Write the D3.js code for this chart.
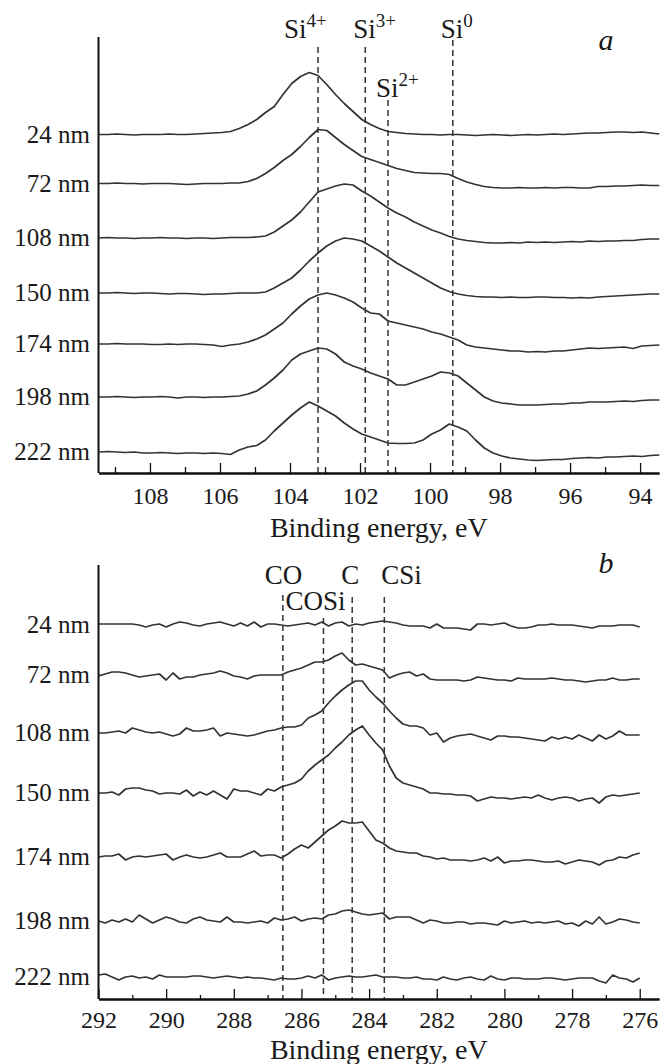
<!DOCTYPE html>
<html>
<head>
<meta charset="utf-8">
<script src="https://cdn.jsdelivr.net/npm/d3@7"></script>
<style>
body { margin: 0; background: #fff; }
text { font-family: "Liberation Serif", "Times New Roman", serif; fill: #1a1a1a; }
.curve { fill: none; stroke: #333; stroke-width: 1.7; stroke-linejoin: round; }
.guide { stroke: #333; stroke-width: 1.5; stroke-dasharray: 6,4; }
.axis path, .axis line { stroke: #111; }
.axis path { stroke-width: 2; }
.axis line { stroke-width: 1.3; }
.axis text { font-size: 24px; }
.depth { font-size: 25px; }
.peak { font-size: 27px; }
.title { font-size: 28px; }
.letter { font-size: 30px; font-style: italic; }
</style>
</head>
<body>
<svg id="chart" width="660" height="1064"></svg>
<script>
// depth of the sputtered layer, same for both panels
var depths = ["24 nm", "72 nm", "108 nm", "150 nm", "174 nm", "198 nm", "222 nm"];

// vertical shift of every spectrum (a.u.)
var siOffsets = [338.5, 289.5, 235, 180, 129, 76, 21];
var cOffsets = [374, 324, 266, 206, 142, 78, 22];

// energy grids (eV), Si 2p step 0.25, C 1s step 0.2
var siEnergies = d3.range(65).map(function (i) { return 109.45 - 0.25 * i; });
var cEnergies = d3.range(81).map(function (i) { return 292 - 0.2 * i; });

var siTicks = [108, 106, 104, 102, 100, 98, 96, 94];
var siMinor = [109, 107, 105, 103, 101, 99, 97, 95];
var cTicks = [292, 290, 288, 286, 284, 282, 280, 278, 276];
var cMinor = [291, 289, 287, 285, 283, 281, 279, 277];

var siPeaks = [
  { name: "Si", sup: "4+", energy: 103.2 },
  { name: "Si", sup: "3+", energy: 101.85 },
  { name: "Si", sup: "2+", energy: 101.2 },
  { name: "Si", sup: "0", energy: 99.35 }
];
var cPeaks = [
  { name: "CO", sup: "", energy: 286.55 },
  { name: "COSi", sup: "", energy: 285.35 },
  { name: "C", sup: "", energy: 284.5 },
  { name: "CSi", sup: "", energy: 283.55 }
];

// Si 2p intensities (a.u.)
var si24 = [0,0,0.5,0,-0.5,0,0,0,0.5,0,0,0.5,1,1.5,2,3,6,10,15,22,28,40,51,58,62,59,50,40,31,23,15,10,6,3,2,1,0.5,0,0,-0.5,0,0,-0.5,-1,-0.5,0,-0.5,-1,-0.5,0,-0.5,0,0.5,0,0.5,1,1.5,1.5,2,2.5,2.5,2,2.5,1.5,0.5];
var si72 = [0,0,0.5,0,0,-0.5,0,0,0,-0.5,-1,-0.5,0,0,0,0.5,0.5,2,5,10,16,23,29,37,46,54,53,46,39,33,27,24,21,18,15,13,11,10.5,10,10,9,5,1.5,-1,-3,-4,-4.5,-4.5,-4,-4.5,-4.5,-4,-4.5,-4,-4,-4.5,-4.5,-3,-3,-2.5,-2.5,-2,-1.5,-2,-2];
var si108 = [0,0.5,0,0,-0.5,0,0,0.5,0,0,-0.5,0,0,-0.5,0,0.5,0.5,0.5,1,2,6,12,18,26,36,46,49,52,54,53,47,42,36,30,25,21,16,12,8,5,1.5,-1,-2.5,-3.5,-4.5,-5,-5,-4.5,-5,-4,-4.5,-4,-4.5,-4,-3.5,-4,-3,-3.5,-3,-3,-2.5,-2.5,-1.5,-1,-1];
var si150 = [0,0,0.5,0,-0.5,0,0,-0.5,-1,-0.5,-0.5,-1,-1.5,-1,-1,-0.5,0,0,0,1,5,10,15,23,32,40,47,52,55,54,52,47,42,36,30,25,20,15,10,5,1.5,-1,-2.5,-3.5,-4,-4,-4.5,-4,-4.5,-4.5,-4,-4,-4.5,-4.5,-5,-4.5,-5,-4,-3.5,-3,-2.5,-2,-1.5,-1,-1];
var si174 = [0,0,0.5,0,0,0,-0.5,-0.5,0,-0.5,0,0,-0.5,-1,-2.5,-1,0,2,5,9,15,21,30,38,45,49,51,49,46,42,36,31,30,23,21,19,17,15,12,10,7,4,-1,-3,-4,-5,-6,-7,-7,-8,-7.5,-8,-7,-7,-6,-5,-4,-4.5,-4,-3.5,-3,-4.5,-2,-1.5,-1];
var si198 = [0,0,0.5,0,-0.5,0,0,0.5,0,-1,0,0,-0.5,0,0,0.5,1,3,6,12,19,27,37,43,46,49,48,43,35,31,28,24,21,18,12,12,15,18,21,25,24,21,14,7,0,-4,-6,-7,-8,-8,-8,-7.5,-7,-7,-6,-6,-5,-5,-5,-4.5,-4,-4.5,-3.5,-3,-3];
var si222 = [0,0.5,0,-0.5,0,-1,-1,-0.5,-1,-1.5,-1,-1,-1.5,-1,-1.5,-2.5,2,5,6.5,12,21,29,37,44,50,46,41,36,29,23,18,15,12,9,8.5,8.5,9,12,18,22,28,25,21,12,4,-1,-4,-6,-7,-8,-8.5,-8,-7.5,-7.5,-6.5,-6,-5.5,-6,-5,-5,-4.5,-4,-4.5,-3.5,-3];

// C 1s intensities (a.u.)
var c24 = [1,1,1,1,1,1,0,-2,0,1,-2,1,3,2,0,-1,1,2,3,1,-1,2,-1,3,-2,1,1,0,-1,0,1,2,0,3,-1,2,3,-1,1,0,2,3,4,3,2,0,-1,-1,-1,-3,1,-3,-3,-3,-4,-5,1,1,0,1,2,-1,-3,-3,-2,0,0,1,0,0,0,-1,-2,-3,-1,-1,-1,0,0,0,-2];
var c72 = [-1,1,3,3,2,0,-2,-1,0,1,-5,2,-4,-2,-2,0,1,2,4,2,-1,-2,-4,-1,0,0,0,0,3,5,7,10,13,13,15,19,22,15,10,11,9,7,5,-3,0,2,3,-1,1,-4,-5,-5,-5,-5,-6,-5,-2,-3,-4,-5,-5,-6,-3,-4,-4,-4,-4,-3,-4,-5,-5,-6,-7,-6,-5,-5,-3,-5,-5,-4,-4];
var c108 = [0,0,1,2,0,5,3,1,0,1,-1,-3,-1,5,2,2,3,5,-3,0,-1,-2,-3,-2,0,2,3,5,6,6,8,15,18,22,30,37,43,48,52,52,43,36,30,22,15,9,7,7,5,-2,0,-9,-5,-3,-2,-1,-3,-5,-7,-3,-3,-4,-4,-5,-6,-7,-8,-4,-6,-4,-6,-2,-5,-8,-2,-6,-3,2,-2,-2,-2];
var c150 = [0,0,1,-2,4,5,5,3,2,-1,0,0,-1,3,-3,1,-2,2,-2,-6,4,2,2,0,-2,4,2,6,8,10,14,22,28,33,38,45,51,58,63,67,58,50,43,27,15,10,8,6,4,0,0,-1,-1,-2,-2,-3,-8,-6,-4,-5,-5,-6,-5,-4,-5,-2,-5,-7,-5,-4,-5,-8,-6,-5,-10,-4,-2,-3,-2,-1,0];
var c174 = [0,1,1,3,-3,0,1,0,1,2,3,-3,0,2,0,-1,0,2,4,0,0,0,3,6,1,2,2,-1,3,8,12,9,15,21,27,31,36,34,34,35,26,17,14,9,6,5,4,4,1,0,-2,-1,-3,-3,-3,-4,-3,-1,-4,0,-6,-4,-4,-3,-3,-4,-5,-5,-4,-7,-5,-3,-4,-5,-8,-4,-3,0,-1,2,4];
var c198 = [0,-2,1,-1,2,-1,6,2,-2,1,4,2,-1,-2,2,4,1,0,-1,4,-1,-1,-2,-1,0,-2,3,1,2,4,0,2,3,2,6,7,10,11,9,7,6,7,8,2,4,4,4,1,-2,1,0,-2,-2,-1,-1,-3,-2,-2,-3,-4,0,-2,-1,0,-2,-1,-2,-1,0,-3,-2,-5,0,-3,4,-3,-1,2,1,-1,-2];
var c222 = [2,3,0,-3,0,1,-1,0,-2,2,0,0,0,0,1,1,0,-1,0,1,0,-1,0,-1,-1,-2,-3,-1,-2,-2,-1,1,-1,2,-3,-1,0,1,0,0,1,2,0,0,0,-1,-1,0,-2,-2,-3,0,-2,-3,-1,0,-2,-3,1,-2,-3,-1,-1,-2,-2,-2,-1,-1,-2,-3,-2,-1,-1,-1,-4,-6,2,-1,-2,-5,-1];

var svg = d3.select("#chart");
svg.append("rect").attr("width", 660).attr("height", 1064).attr("fill", "#fff");

var xSi = d3.scaleLinear().domain([109.47, 93.46]).range([98.5, 659]),
    ySi = d3.scaleLinear().domain([0, 436]).range([473, 37]),
    xC = d3.scaleLinear().domain([292, 275.43]).range([98.5, 659]),
    yC = d3.scaleLinear().domain([0, 434]).range([999, 565]);

// where each guide line starts and where its label sits (px from the line)
var siGuide = [
  { top: 47, dx: -34, base: 38 },
  { top: 47, dx: -12, base: 38 },
  { top: 100, dx: -12, base: 97 },
  { top: 40, dx: -12, base: 38 }
];
var cGuide = [
  { top: 595, dx: -18, base: 584 },
  { top: 618, dx: -38, base: 610 },
  { top: 597, dx: -11, base: 584 },
  { top: 597, dx: -3, base: 584 }
];

function drawPanel(p) {
  var g = svg.append("g");
  var x = p.x, y = p.y;

  // dashed guides for the chemical states
  g.selectAll("line.guide")
    .data(p.peaks)
    .enter().append("line")
    .attr("class", "guide")
    .attr("x1", function (d) { return x(d.energy); })
    .attr("x2", function (d) { return x(d.energy); })
    .attr("y1", function (d, i) { return p.guide[i].top; })
    .attr("y2", y(0));

  var lab = g.selectAll("text.peak")
    .data(p.peaks)
    .enter().append("text")
    .attr("class", "peak")
    .attr("x", function (d, i) { return x(d.energy) + p.guide[i].dx; })
    .attr("y", function (d, i) { return p.guide[i].base; })
    .text(function (d) { return d.name; });
  lab.filter(function (d) { return d.sup !== ""; })
    .append("tspan")
    .attr("dy", -11)
    .attr("font-size", 19)
    .text(function (d) { return d.sup; });

  // spectra
  var line = d3.line()
    .x(function (d, i) { return x(p.energies[i]); })
    .y(function (d) { return d; });
  g.selectAll("path.curve")
    .data(p.series)
    .enter().append("path")
    .attr("class", "curve")
    .attr("d", function (s, k) {
      return line(s.map(function (v) { return y(p.offsets[k] + v); }));
    });

  g.selectAll("text.depth")
    .data(depths)
    .enter().append("text")
    .attr("class", "depth")
    .attr("text-anchor", "end")
    .attr("x", 90)
    .attr("y", function (d, k) { return y(p.offsets[k]); })
    .attr("dy", "0.33em")
    .text(function (d) { return d; });

  // axes
  g.append("line")
    .attr("x1", x.range()[0]).attr("x2", x.range()[0])
    .attr("y1", y.range()[1]).attr("y2", y(0))
    .attr("stroke", "#111").attr("stroke-width", 2);

  g.append("g")
    .attr("class", "axis")
    .attr("transform", "translate(0," + y(0) + ")")
    .call(d3.axisBottom(x).tickValues(p.minor).tickFormat("").tickSizeInner(-p.minorSize).tickSizeOuter(0));
  g.append("g")
    .attr("class", "axis")
    .attr("transform", "translate(0," + y(0) + ")")
    .call(d3.axisBottom(x).tickValues(p.ticks).tickFormat(d3.format("d")).tickSizeInner(-10).tickSizeOuter(0).tickPadding(p.pad));

  g.append("text")
    .attr("class", "title")
    .attr("text-anchor", "middle")
    .attr("x", (x.range()[0] + x.range()[1]) / 2)
    .attr("y", p.titleY)
    .text("Binding energy, eV");

  g.append("text")
    .attr("class", "letter")
    .attr("text-anchor", "middle")
    .attr("x", 606)
    .attr("y", p.letterY)
    .text(p.letter);
}

drawPanel({
  x: xSi, y: ySi, energies: siEnergies,
  series: [si24, si72, si108, si150, si174, si198, si222],
  offsets: siOffsets, peaks: siPeaks, guide: siGuide,
  ticks: siTicks, minor: siMinor, minorSize: 6, pad: 14,
  titleY: 537, letter: "a", letterY: 50
});

drawPanel({
  x: xC, y: yC, energies: cEnergies,
  series: [c24, c72, c108, c150, c174, c198, c222],
  offsets: cOffsets, peaks: cPeaks, guide: cGuide,
  ticks: cTicks, minor: cMinor, minorSize: 4, pad: 12,
  titleY: 1059, letter: "b", letterY: 573
});
</script>
</body>
</html>
